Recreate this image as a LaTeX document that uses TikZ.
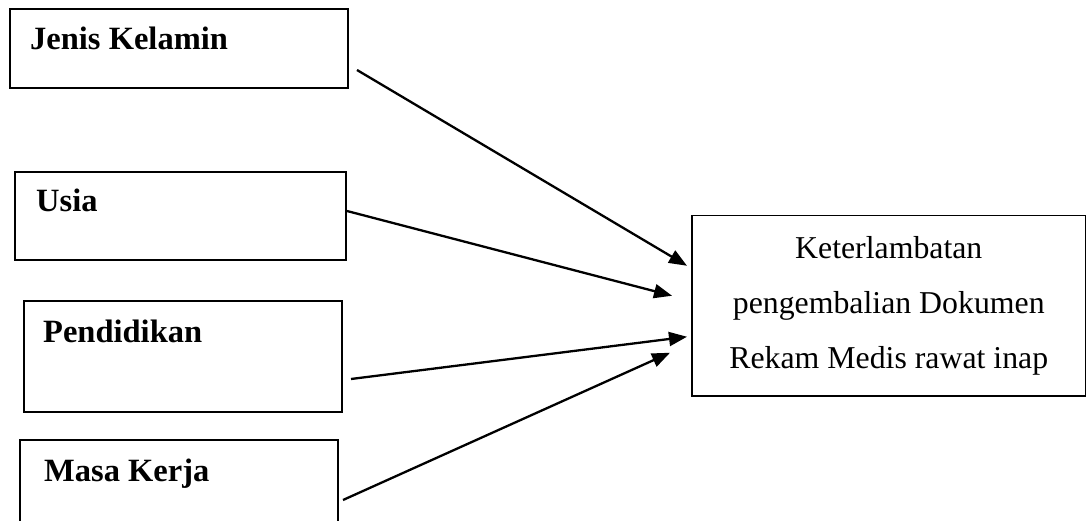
\documentclass[tikz,border=0pt]{standalone}
\usepackage{fontspec}
\setmainfont{Liberation Serif}
\usetikzlibrary{arrows.meta}
\begin{document}
\begin{tikzpicture}[x=1pt,y=-1pt,
  box/.style={draw, line width=2pt, inner sep=0pt, anchor=north west},
  lbl/.style={anchor=base west, inner sep=0pt, font=\fontsize{32.5}{40}\selectfont\bfseries},
  arr/.style={line width=2.3pt, -{Triangle[length=18pt,width=14pt]}}]
\clip (0,0) rectangle (1086,521);
\fill[white] (0,0) rectangle (1086,521);
% left boxes
\node[box, minimum width=338pt, minimum height=79pt] (jk) at (9,8) {};
\node[box, minimum width=331pt, minimum height=88pt] (usia) at (14,171) {};
\node[box, minimum width=318pt, minimum height=111pt] (pend) at (23,300) {};
\node[box, minimum width=318pt, minimum height=100pt] (masa) at (19,439) {};
% labels
\node[lbl] (tjk) at (30,50) {Jenis Kelamin};
\node[lbl] (tusia) at (36,212) {Usia};
\node[lbl] (tpend) at (43,342) {Pendidikan};
\node[lbl] (tmasa) at (44,481) {Masa Kerja};
% right box
\node[draw, line width=1.5pt, anchor=north west, minimum width=394pt, minimum height=180pt,
      inner sep=0pt, align=center, font=\fontsize{31.8}{55}\selectfont] (out) at (691,215)
  {Keterlambatan\\pengembalian Dokumen\\Rekam Medis rawat inap};
% arrows
\draw[arr] ([shift={(8,-19)}]jk.south east) -- ([shift={(-4,-40)}]out.west);
\draw[arr] ([shift={(0,-5)}]usia.east) -- ([shift={(-19,-10)}]out.west);
\draw[arr] ([shift={(8,22.5)}]pend.east) -- ([shift={(-4,31)}]out.west);
\draw[arr] ([shift={(4,61)}]masa.north east) -- ([shift={(-21,47)}]out.west);
\end{tikzpicture}
\end{document}
